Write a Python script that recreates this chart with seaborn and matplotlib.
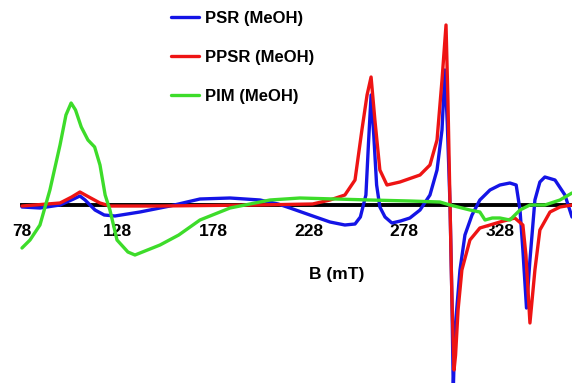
import numpy as np
import pandas as pd
import matplotlib
matplotlib.use("Agg")
import matplotlib.pyplot as plt
import seaborn as sns

# ---- data (B in mT, signal in arbitrary units) ----
psr_b = [78, 87.4, 97.9, 105, 108.3, 111, 116.2, 121, 126.6, 139.7, 155.4, 171.1, 186.8,
         202.5, 212, 218.2, 228.6, 239.1, 246.9, 252.2, 255, 257.9, 259.2, 260.6, 262,
         263.5, 265.2, 267.9, 271.5, 276, 280.9, 286.2, 291.4, 295.1, 297.7, 299.2, 300.5,
         301.9, 302.9, 303.6, 304.5, 307.1, 309.7, 313.4, 317.5, 322.8, 328, 333.2, 336.5,
         338.5, 340, 341.9, 343.7, 346.3, 348.9, 351.5, 356.8, 362, 365.7]
psr_v = [-2, -3, 0, 6, 9, 5, -5, -10, -11, -7, -1, 6, 7,
         5, 1, -3, -10, -17, -20, -19, -12, 10, 60, 110, 70,
         20, -2, -12, -18, -16, -13, -5, 10, 35, 75, 135, 80,
         0, -95, -185, -125, -65, -30, -10, 5, 15, 20, 22, 20,
         -5, -45, -103, -55, 5, 23, 28, 25, 10, -12]

ppsr_b = [78, 97.9, 104, 108.3, 113, 118.8, 124, 150, 200, 230, 239.1, 246.9, 252.2,
          255.8, 258.5, 260.6, 262.6, 265.2, 268.9, 275.7, 286.2, 291.4, 295.1, 297.7,
          299.8, 300.8, 301.9, 302.9, 304.0, 304.8, 306.1, 308.1, 312.3, 317.5, 322.8,
          328, 335.8, 340, 341.6, 343.7, 346.3, 348.9, 354.2, 359.4, 365.7]
ppsr_v = [-1, 2, 8, 13, 8, 2, -1, -1, 0, 1, 5, 10, 25,
          75, 110, 128, 85, 35, 20, 23, 30, 40, 65, 125,
          180, 105, 0, -95, -165, -150, -105, -65, -35, -23, -20,
          -17, -13, -20, -50, -118, -65, -25, -7, -2, 0]

pim_b = [78, 82.2, 87.4, 92.6, 97.9, 101, 103.7, 106, 109, 112.5, 116, 118.8, 121.5,
         124, 127.7, 133.4, 137.1, 150.2, 160, 171.1, 186.8, 207.7, 223.4, 260, 280.9,
         296.6, 301.9, 312.3, 317.5, 320.2, 324, 328, 333.2, 338.5, 343.7, 351.5, 359.4,
         365.7]
pim_v = [-43, -35, -20, 15, 60, 90, 102, 95, 78, 65, 58, 40, 10,
         -5, -35, -47, -50, -40, -30, -15, -3, 5, 7, 5, 4,
         3, 0, -5, -7, -15, -13, -13, -15, -5, 0, 0, 5,
         12]

labels = ["PSR (MeOH)", "PPSR (MeOH)", "PIM (MeOH)"]
ticks = [78, 128, 178, 228, 278, 328]
colors = {"PSR (MeOH)": "#1414e6", "PPSR (MeOH)": "#ee1414", "PIM (MeOH)": "#3ddc2a"}

df = pd.concat([
    pd.DataFrame({"B": psr_b, "S": psr_v, "series": labels[0]}),
    pd.DataFrame({"B": ppsr_b, "S": ppsr_v, "series": labels[1]}),
    pd.DataFrame({"B": pim_b, "S": pim_v, "series": labels[2]}),
], ignore_index=True)

sns.set_style("white")
plt.rcParams["font.family"] = ["Liberation Sans", "DejaVu Sans"]
plt.rcParams["text.color"] = "black"
plt.rcParams["xtick.color"] = "black"
plt.rcParams["xtick.labelcolor"] = "black"

fig = plt.figure(figsize=(5.72, 3.83), dpi=100)
ax = fig.add_axes([0, 0, 1, 1])

handles = []
for i, lab in enumerate(labels):
    sub = df[df["series"] == lab]
    sns.lineplot(data=sub, x="B", y="S", ax=ax, color=colors[lab], lw=2.4,
                 sort=False, estimator=None, zorder=3 + i, legend=False)
    handles.append(plt.Line2D([], [], color=colors[lab], lw=2.4, label=lab))

ax.set_xlim(66.5, 365.7)
ax.set_ylim(-178, 205)
ax.set_xlabel("")
ax.set_ylabel("")
for s in ["top", "right", "left"]:
    ax.spines[s].set_visible(False)
ax.spines["bottom"].set_position(("data", 0))
ax.spines["bottom"].set_bounds(78, 365.7)
ax.spines["bottom"].set_linewidth(2.8)
ax.spines["bottom"].set_color("black")
ax.spines["bottom"].set_zorder(2.5)
ax.set_xticks(ticks)
ax.set_xticklabels([str(t) for t in ticks], fontweight="bold", fontsize=12.5,
                   color="black")
ax.tick_params(axis="x", direction="in", length=4, width=1.5, pad=14, color="black")
ax.set_yticks([])
ax.patch.set_alpha(0)

fig.text(337 / 572, 1 - 274 / 383, "B (mT)", ha="center", va="center",
         fontsize=12.5, fontweight="bold", color="black")

leg = ax.legend(handles=handles, loc="upper left",
                bbox_to_anchor=(171 / 572, 1 - 11 / 383),
                frameon=False, borderpad=0, borderaxespad=0, handlelength=1.7,
                handletextpad=0.35, labelspacing=1.45,
                prop={"weight": "bold", "size": 12})
for t in leg.get_texts():
    t.set_color("black")

fig.savefig("out.png", dpi=100)
